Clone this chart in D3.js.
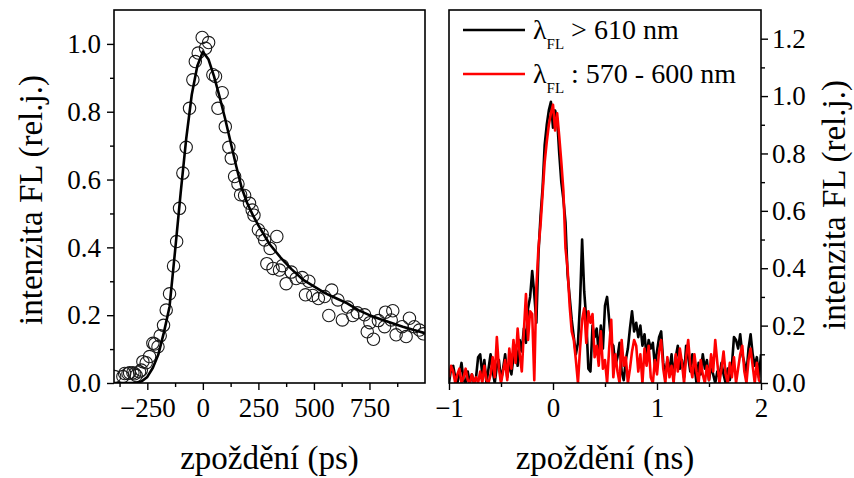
<!DOCTYPE html>
<html>
<head>
<meta charset="utf-8">
<script src="https://cdn.jsdelivr.net/npm/d3@7"></script>
<style>
  body { margin: 0; background: #fff; }
</style>
</head>
<body>
<svg id="chart" width="854" height="478"></svg>
<script>
// ---- Left panel: measured decay (circles) and fitted curve, delay in ps ----
const delayPs = [-397, -360, -352, -337, -330, -315, -307, -300, -285, -277, -270, -255, -240, -225, -217,
  -202, -192, -177, -165, -150, -132, -118, -105, -90, -75, -60, -45, -34, -21, -3, 12, 26, 45, 57, 68,
  87, 101, 117, 128, 143, 158, 170, 188, 210, 222, 230, 250, 267, 278, 288, 303, 316, 333, 345, 358,
  375, 398, 420, 447, 462, 477, 495, 520, 548, 567, 580, 608, 628, 652, 675, 695, 728, 740, 752, 768,
  790, 818, 822, 848, 855, 870, 897, 915, 930, 952, 975, 992];
const intensity = [0.019, 0.019, 0.028, 0.028, 0.030, 0.030, 0.027, 0.022, 0.033, 0.038, 0.063, 0.060, 0.078, 0.117, 0.115,
  0.107, 0.139, 0.170, 0.215, 0.263, 0.345, 0.417, 0.515, 0.619, 0.695, 0.810, 0.894, 0.948, 0.973, 1.019, 0.987, 1.004, 0.909, 0.904, 0.810,
  0.856, 0.756, 0.695, 0.663, 0.609, 0.587, 0.555, 0.553, 0.530, 0.510, 0.495, 0.452, 0.438, 0.422, 0.352, 0.397, 0.338, 0.432, 0.333, 0.346,
  0.293, 0.327, 0.308, 0.311, 0.260, 0.300, 0.258, 0.249, 0.255, 0.199, 0.274, 0.245, 0.186, 0.224, 0.199, 0.207, 0.201, 0.151, 0.178, 0.129,
  0.184, 0.166, 0.209, 0.186, 0.213, 0.142, 0.166, 0.137, 0.191, 0.166, 0.156, 0.145];

const fitPs = [-400, -300, -275, -250, -225, -200, -175, -150, -125, -100, -75, -50, -25, 0, 25, 50, 75, 100,
  125, 150, 175, 200, 225, 250, 300, 350, 400, 450, 500, 550, 600, 650, 700, 750, 800, 850, 900, 950, 1000];
const fitVal = [0, 0, 0.005, 0.018, 0.045, 0.085, 0.150, 0.225, 0.390, 0.560, 0.720, 0.850, 0.935, 0.977, 0.955, 0.905, 0.845, 0.780,
  0.710, 0.640, 0.575, 0.530, 0.495, 0.465, 0.410, 0.370, 0.335, 0.305, 0.285, 0.265, 0.250, 0.235, 0.215, 0.200, 0.188, 0.177, 0.166, 0.156, 0.147];

// ---- Right panel: two detection bands, sampled every 20 ps from -1 ns ----
const traceStart = -1.0, traceStep = 0.02;
const longBand = [ // λFL > 610 nm
  0.00, 0.05, 0.06, 0.02, 0.00, 0.03, 0.07, 0.01, 0.00, 0.04, 0.00, 0.03, 0.00, 0.02, 0.09, 0.10, 0.03, 0.08, 0.00, 0.05,
  0.10, 0.04, 0.00, 0.06, 0.08, 0.01, 0.05, 0.10, 0.02, 0.07, 0.03, 0.09, 0.13, 0.06, 0.15, 0.11, 0.19, 0.14, 0.26, 0.30,
  0.39, 0.31, 0.21, 0.45, 0.58, 0.68, 0.83, 0.90, 0.95, 0.98, 0.89, 0.95, 0.92, 0.80, 0.70, 0.64, 0.56, 0.38, 0.30, 0.22,
  0.16, 0.10, 0.14, 0.28, 0.50, 0.32, 0.22, 0.05, 0.04, 0.20, 0.16, 0.19, 0.10, 0.20, 0.12, 0.27, 0.30, 0.22, 0.14, 0.13,
  0.06, 0.09, 0.14, 0.04, 0.01, 0.08, 0.12, 0.19, 0.25, 0.18, 0.21, 0.16, 0.20, 0.13, 0.17, 0.09, 0.15, 0.12, 0.14, 0.06,
  0.11, 0.16, 0.18, 0.07, 0.03, 0.08, 0.04, 0.10, 0.02, 0.09, 0.13, 0.05, 0.08, 0.02, 0.13, 0.09, 0.04, 0.10, 0.06, 0.00,
  0.07, 0.03, 0.10, 0.05, 0.08, 0.01, 0.06, 0.03, 0.00, 0.04, 0.02, 0.07, 0.03, 0.00, 0.05, 0.01, 0.06, 0.16, 0.15, 0.12,
  0.17, 0.10, 0.07, 0.03, 0.12, 0.17, 0.10, 0.06, 0.09, 0.02, 0.10];
const shortBand = [ // λFL : 570 - 600 nm
  0.02, 0.06, 0.04, 0.00, 0.03, 0.05, 0.00, 0.02, 0.05, 0.01, 0.00, 0.03, 0.00, 0.02, 0.00, 0.04, 0.00, 0.06, 0.01, 0.00,
  0.03, 0.09, 0.02, 0.16, 0.05, 0.00, 0.04, 0.08, 0.01, 0.12, 0.05, 0.15, 0.07, 0.19, 0.10, 0.04, 0.18, 0.31, 0.15, 0.25,
  0.24, 0.01, 0.33, 0.47, 0.55, 0.66, 0.77, 0.84, 0.90, 0.94, 0.97, 0.88, 0.94, 0.86, 0.77, 0.67, 0.47, 0.40, 0.27, 0.18,
  0.15, 0.08, 0.00, 0.12, 0.22, 0.26, 0.14, 0.25, 0.21, 0.24, 0.09, 0.13, 0.06, 0.18, 0.05, 0.08, 0.00, 0.12, 0.22, 0.02,
  0.10, 0.04, 0.00, 0.15, 0.06, 0.09, 0.00, 0.05, 0.11, 0.15, 0.13, 0.04, 0.10, 0.00, 0.12, 0.06, 0.13, 0.02, 0.00, 0.08,
  0.03, 0.11, 0.15, 0.05, 0.00, 0.09, 0.02, 0.06, 0.00, 0.10, 0.04, 0.12, 0.07, 0.00, 0.09, 0.15, 0.06, 0.02, 0.10, 0.04,
  0.00, 0.08, 0.03, 0.00, 0.06, 0.01, 0.10, 0.04, 0.15, 0.07, 0.00, 0.05, 0.11, 0.03, 0.00, 0.07, 0.02, 0.09, 0.00, 0.05,
  0.10, 0.13, 0.04, 0.00, 0.08, 0.12, 0.06, 0.00, 0.07, 0.01, 0.00];

const leftYTicks = [0, 0.2, 0.4, 0.6, 0.8, 1.0];
const leftXTicks = [-250, 0, 250, 500, 750];
const rightYTicks = [0, 0.2, 0.4, 0.6, 0.8, 1.0, 1.2];
const rightXTicks = [-1, 0, 1, 2];
const legendLabels = [
  { sub: "FL", rest: " > 610 nm", color: "#000" },
  { sub: "FL", rest: " : 570 - 600 nm", color: "#ff0000" }
];

const serif = "'Liberation Serif', 'Times New Roman', Times, serif";
const svg = d3.select("#chart");
const tickFont = 27, titleFont = 33;

function styleAxis(g, size) {
  g.attr("font-family", null).attr("font-size", null);
  g.select(".domain").remove();
  g.selectAll(".tick line").attr("stroke", "#000").attr("stroke-width", 1.4);
  g.selectAll(".tick text").style("font-family", serif).style("font-size", size + "px").attr("fill", "#000");
}

// ================= left panel =================
const L = { x0: 114, x1: 425, y0: 10, y1: 383 };
const xL = d3.scaleLinear().domain([-400, 1000]).range([L.x0, L.x1]);
const yL = d3.scaleLinear().domain([0, 1.1]).range([L.y1, L.y0]);

svg.append("clipPath").attr("id", "clipL").append("rect")
  .attr("x", L.x0).attr("y", L.y0).attr("width", L.x1 - L.x0).attr("height", L.y1 - L.y0);

const plotL = svg.append("g").attr("clip-path", "url(#clipL)");
plotL.selectAll("circle").data(delayPs.map((d, i) => [d, intensity[i]])).join("circle")
  .attr("cx", d => xL(d[0])).attr("cy", d => yL(d[1])).attr("r", 6.2)
  .attr("fill", "none").attr("stroke", "#1a1a1a").attr("stroke-width", 1.1);
plotL.append("path")
  .datum(fitPs.map((d, i) => [d, fitVal[i]]))
  .attr("d", d3.line().x(d => xL(d[0])).y(d => yL(d[1])))
  .attr("fill", "none").attr("stroke", "#000").attr("stroke-width", 2.6).attr("stroke-linejoin", "round");

svg.append("rect").attr("x", L.x0).attr("y", L.y0).attr("width", L.x1 - L.x0).attr("height", L.y1 - L.y0)
  .attr("fill", "none").attr("stroke", "#000").attr("stroke-width", 1.6);

svg.append("g").attr("transform", `translate(${L.x0},0)`)
  .call(d3.axisLeft(yL).tickValues(leftYTicks).tickFormat(d3.format(".1f")).tickSize(7).tickPadding(6))
  .call(g => styleAxis(g, tickFont));
svg.append("g").attr("transform", `translate(${L.x0},0)`)
  .call(d3.axisLeft(yL).tickValues([0.1, 0.3, 0.5, 0.7, 0.9]).tickFormat("").tickSize(4))
  .call(g => styleAxis(g, tickFont));
svg.append("g").attr("transform", `translate(0,${L.y1})`)
  .call(d3.axisBottom(xL).tickValues(leftXTicks).tickFormat(d3.format("d")).tickSize(7).tickPadding(8))
  .call(g => styleAxis(g, tickFont));
svg.append("g").attr("transform", `translate(0,${L.y1})`)
  .call(d3.axisBottom(xL).tickValues([-375, -125, 125, 375, 625, 875]).tickFormat("").tickSize(4))
  .call(g => styleAxis(g, tickFont));

// ================= right panel =================
const R = { x0: 449, x1: 761, y0: 10, y1: 383 };
const xR = d3.scaleLinear().domain([-1, 2]).range([R.x0, R.x1]);
const yR = d3.scaleLinear().domain([0, 1.3]).range([R.y1, R.y0]);
const traceTime = d3.range(longBand.length).map(i => traceStart + i * traceStep);

svg.append("clipPath").attr("id", "clipR").append("rect")
  .attr("x", R.x0).attr("y", R.y0).attr("width", R.x1 - R.x0).attr("height", R.y1 - R.y0);
const plotR = svg.append("g").attr("clip-path", "url(#clipR)");
const lineR = d3.line().x((d, i) => xR(traceTime[i])).y(d => yR(d));
plotR.append("path").datum(longBand).attr("d", lineR)
  .attr("fill", "none").attr("stroke", "#000").attr("stroke-width", 2.6).attr("stroke-linejoin", "round");
plotR.append("path").datum(shortBand).attr("d", lineR)
  .attr("fill", "none").attr("stroke", "#ff0000").attr("stroke-width", 2.6).attr("stroke-linejoin", "round");

svg.append("rect").attr("x", R.x0).attr("y", R.y0).attr("width", R.x1 - R.x0).attr("height", R.y1 - R.y0)
  .attr("fill", "none").attr("stroke", "#000").attr("stroke-width", 1.6);

svg.append("g").attr("transform", `translate(${R.x1},0)`)
  .call(d3.axisRight(yR).tickValues(rightYTicks).tickFormat(d3.format(".1f")).tickSize(7).tickPadding(4))
  .call(g => styleAxis(g, tickFont));
svg.append("g").attr("transform", `translate(${R.x1},0)`)
  .call(d3.axisRight(yR).tickValues([0.1, 0.3, 0.5, 0.7, 0.9, 1.1]).tickFormat("").tickSize(4))
  .call(g => styleAxis(g, tickFont));
svg.append("g").attr("transform", `translate(0,${R.y1})`)
  .call(d3.axisBottom(xR).tickValues(rightXTicks).tickFormat(d3.format("d")).tickSize(7).tickPadding(8))
  .call(g => styleAxis(g, tickFont));
svg.append("g").attr("transform", `translate(0,${R.y1})`)
  .call(d3.axisBottom(xR).tickValues([-0.5, 0.5, 1.5]).tickFormat("").tickSize(4))
  .call(g => styleAxis(g, tickFont));

// legend
const leg = svg.append("g");
legendLabels.forEach((d, i) => {
  const y = 30 + i * 44;
  leg.append("line").attr("x1", 463).attr("x2", 525).attr("y1", y).attr("y2", y)
    .attr("stroke", d.color).attr("stroke-width", 2.6);
  const t = leg.append("text").attr("x", 533).attr("y", y + 9)
    .style("font-family", serif).style("font-size", "28px");
  t.append("tspan").text("λ");
  t.append("tspan").attr("dy", 10).style("font-size", "15px").text(d.sub);
  t.append("tspan").attr("dy", -10).text(d.rest);
});

// ================= axis titles =================
function title(text, transform) {
  svg.append("text").attr("transform", transform).attr("text-anchor", "middle")
    .style("font-family", serif).style("font-size", titleFont + "px").text(text);
}
title("zpoždění (ps)", `translate(${(L.x0 + L.x1) / 2},469)`);
title("zpoždění (ns)", `translate(${(R.x0 + R.x1) / 2},469)`);
title("intenzita FL (rel.j.)", "translate(42,200) rotate(-90)");
title("intenzita FL (rel.j.)", "translate(845,205) rotate(-90)");
</script>
</body>
</html>
